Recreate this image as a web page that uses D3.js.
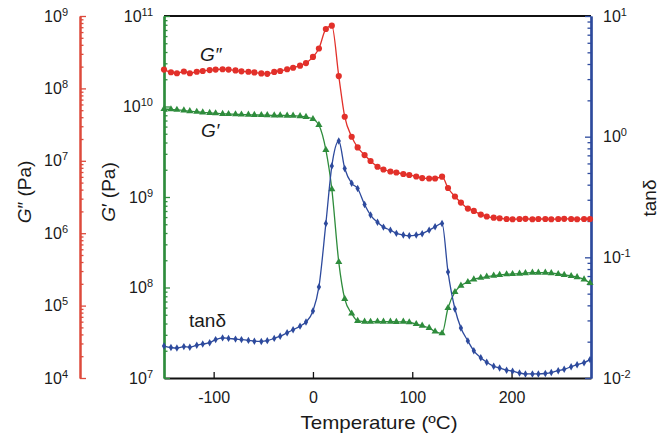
<!DOCTYPE html>
<html><head><meta charset="utf-8">
<script src="https://cdn.jsdelivr.net/npm/d3@7"></script>
<style>body{margin:0;background:#fff} svg text{font-family:"Liberation Sans",Arial,sans-serif;fill:#1a1a1a}</style>
</head><body><svg id="c" width="659" height="437"></svg>
<script>
// Temperature (°C)
const temps = [-150,-143,-137,-130,-124,-117,-111,-104,-98,-91,-85,-78,-72,-65,-59,-52,-46,-39,-33,-26,-20,-13,-7,0,6,13,19,26,32,39,45,52,58,65,71,78,84,91,97,104,110,117,123,130,136,143,149,156,162,169,175,182,188,195,201,208,214,221,227,234,240,247,253,260,266,273,279];
// G'' (Pa) – red, outer left axis
const gDoublePrime = [1.82e8,1.67e8,1.62e8,1.71e8,1.62e8,1.70e8,1.74e8,1.79e8,1.82e8,1.84e8,
1.82e8,1.77e8,1.72e8,1.70e8,1.66e8,1.61e8,1.59e8,1.69e8,1.74e8,1.84e8,
1.93e8,2.06e8,2.24e8,2.72e8,3.56e8,6.61e8,7.35e8,1.48e8,4.06e7,2.15e7,
1.53e7,1.20e7,9.93e6,8.28e6,7.58e6,7.11e6,6.89e6,6.57e6,6.37e6,6.07e6,
5.78e6,5.70e6,5.70e6,6.03e6,4.21e6,3.21e6,2.65e6,2.19e6,2.03e6,1.81e6,
1.70e6,1.64e6,1.61e6,1.57e6,1.56e6,1.57e6,1.58e6,1.56e6,1.57e6,1.57e6,
1.56e6,1.57e6,1.58e6,1.57e6,1.56e6,1.57e6,1.57e6];
// G' (Pa) – green, inner left axis
const gPrime = [9.38e9,9.31e9,9.20e9,9.04e9,8.88e9,8.74e9,8.62e9,8.51e9,8.41e9,8.30e9,
8.26e9,8.20e9,8.16e9,8.12e9,8.07e9,8.05e9,8.01e9,7.99e9,7.97e9,7.93e9,
7.91e9,7.81e9,7.69e9,7.27e9,6.25e9,3.31e9,1.22e9,1.91e8,7.47e7,5.16e7,
4.27e7,4.20e7,4.18e7,4.21e7,4.19e7,4.20e7,4.17e7,4.19e7,4.13e7,3.95e7,
3.78e7,3.57e7,3.26e7,3.12e7,5.93e7,8.91e7,1.05e8,1.15e8,1.23e8,1.28e8,
1.32e8,1.35e8,1.38e8,1.40e8,1.41e8,1.42e8,1.44e8,1.46e8,1.46e8,1.46e8,
1.44e8,1.41e8,1.38e8,1.34e8,1.30e8,1.23e8,1.12e8];
// tan delta – blue, right axis
const tanDelta = [0.0184,0.0179,0.0177,0.0182,0.0180,0.0187,0.0191,0.0196,0.0208,0.0215,
0.0213,0.0210,0.0208,0.0205,0.0202,0.0201,0.0204,0.0213,0.0222,0.0237,
0.0251,0.0269,0.0291,0.0359,0.0568,0.191,0.571,0.921,0.545,0.411,
0.372,0.274,0.224,0.195,0.178,0.168,0.158,0.153,0.151,0.153,
0.157,0.168,0.179,0.191,0.0757,0.0373,0.0260,0.0203,0.0168,0.0147,
0.0135,0.0125,0.0121,0.0116,0.0114,0.0110,0.0108,0.0108,0.0108,0.0109,
0.0111,0.0115,0.0118,0.0124,0.0129,0.0134,0.0142];

const xTicks = [-100, 0, 100, 200];
const gPrimeTicks = [1e7, 1e8, 1e9, 1e10, 1e11];
const gDoublePrimeTicks = [1e4, 1e5, 1e6, 1e7, 1e8, 1e9];
const tanTicks = [1e-2, 1e-1, 1e0, 1e1];

const RED = "#e2302a", GREEN = "#2e8c3c", BLUE = "#2d4a9d";
const svg = d3.select("#c");
const L = 164, R = 591, T = 16, B = 378;

const x = d3.scaleLinear().domain([-150, 280]).range([L, R]);
const yG = d3.scaleLog().domain([1e7, 1e11]).range([B, T]);
const yR = d3.scaleLog().domain([1e4, 1e9]).range([B, T]);
const yT = d3.scaleLog().domain([1e-2, 1e1]).range([B, T]);

function supLabels(g) {
  g.selectAll(".tick text").each(function(d) {
    const t = d3.select(this);
    const e = Math.round(Math.log10(d));
    t.text(null);
    t.append("tspan").text("10");
    t.append("tspan").attr("dy", "-0.55em").attr("font-size", "11px").text(String(e));
  });
}
function minorOf(scale, majors) {
  return scale.ticks().filter(v => !majors.some(m => Math.abs(m - v) / m < 1e-6));
}
function styleAxis(g, color, width) {
  g.select(".domain").attr("stroke", color).attr("stroke-width", width);
  g.selectAll(".tick line").attr("stroke", color).attr("stroke-width", 1.3);
}

// top frame line
svg.append("line").attr("x1", L).attr("x2", R).attr("y1", T).attr("y2", T)
  .attr("stroke", "#111").attr("stroke-width", 2);

// bottom axis
const gx = svg.append("g").attr("transform", `translate(0,${B})`)
  .call(d3.axisBottom(x).tickValues(xTicks).tickFormat(d => String(d)).tickSizeInner(-6).tickSizeOuter(0).tickPadding(14))
  .attr("font-size", 16);
styleAxis(gx, "#111", 2);

// G' axis (green, at plot left)
const gGmin = svg.append("g").attr("transform", `translate(${L},0)`)
  .call(d3.axisLeft(yG).tickValues(minorOf(yG, gPrimeTicks)).tickSizeInner(-3.5).tickSizeOuter(0).tickFormat(""));
styleAxis(gGmin, GREEN, 2.2);
const gG = svg.append("g").attr("transform", `translate(${L},0)`)
  .call(d3.axisLeft(yG).tickValues(gPrimeTicks).tickSizeInner(-6).tickSizeOuter(0).tickPadding(11))
  .attr("font-size", 16);
styleAxis(gG, GREEN, 2.2);
gG.call(supLabels);

// G'' axis (red, outer left)
const RX = 80;
const gRmin = svg.append("g").attr("transform", `translate(${RX},0)`)
  .call(d3.axisLeft(yR).tickValues(minorOf(yR, gDoublePrimeTicks)).tickSizeInner(-3.5).tickSizeOuter(0).tickFormat(""));
styleAxis(gRmin, "#dd4a3c", 2);
const gR = svg.append("g").attr("transform", `translate(${RX},0)`)
  .call(d3.axisLeft(yR).tickValues(gDoublePrimeTicks).tickSizeInner(-6).tickSizeOuter(0).tickPadding(12))
  .attr("font-size", 16);
styleAxis(gR, "#dd4a3c", 2);
gR.call(supLabels);

// tan delta axis (blue, right)
const gTmin = svg.append("g").attr("transform", `translate(${R},0)`)
  .call(d3.axisRight(yT).tickValues(minorOf(yT, tanTicks)).tickSizeInner(-3.5).tickSizeOuter(0).tickFormat(""));
styleAxis(gTmin, BLUE, 2.2);
const gT = svg.append("g").attr("transform", `translate(${R},0)`)
  .call(d3.axisRight(yT).tickValues(tanTicks).tickSizeInner(-6).tickSizeOuter(0).tickPadding(12))
  .attr("font-size", 16);
styleAxis(gT, BLUE, 2.2);
gT.call(supLabels);

svg.selectAll(".tick text").attr("fill", "#1a1a1a");

// series
function series(vals, yScale, color, symbolType, size) {
  const pts = temps.map((t, i) => [x(t), yScale(vals[i])]);
  svg.append("path").attr("d", d3.line().curve(d3.curveMonotoneX)(pts))
    .attr("fill", "none").attr("stroke", color).attr("stroke-width", 1.3);
  svg.append("g").selectAll("path").data(pts).join("path")
    .attr("transform", d => `translate(${d[0]},${d[1]})`)
    .attr("d", d3.symbol().type(symbolType).size(size))
    .attr("fill", color);
}
series(gDoublePrime, yR, RED, d3.symbolCircle, 30);
series(gPrime, yG, GREEN, d3.symbolTriangle, 22);
series(tanDelta, yT, BLUE, d3.symbolDiamond, 16);

// annotations
svg.append("text").attr("x", 200).attr("y", 61).attr("font-size", 19).attr("font-style", "italic").text("G″");
svg.append("text").attr("x", 201).attr("y", 137).attr("font-size", 19).attr("font-style", "italic").text("G′");
svg.append("text").attr("x", 189).attr("y", 327).attr("font-size", 19).text("tanδ");

// axis titles
function yTitle(xp, yp, parts) {
  const t = svg.append("text").attr("transform", `translate(${xp},${yp}) rotate(-90)`)
    .attr("text-anchor", "middle").attr("font-size", 19);
  parts.forEach(p => t.append("tspan").attr("font-style", p[1] ? "italic" : null).text(p[0]));
}
yTitle(31, 192, [["G", true], ["″ (Pa)", false]]);
yTitle(115, 192, [["G", true], ["′ (Pa)", false]]);
yTitle(656, 198, [["tanδ", false]]);

svg.append("text").attr("x", 379).attr("y", 429).attr("text-anchor", "middle")
  .attr("font-size", 19).attr("textLength", 157).attr("lengthAdjust", "spacingAndGlyphs")
  .text("Temperature (ºC)");
</script>
</body></html>
